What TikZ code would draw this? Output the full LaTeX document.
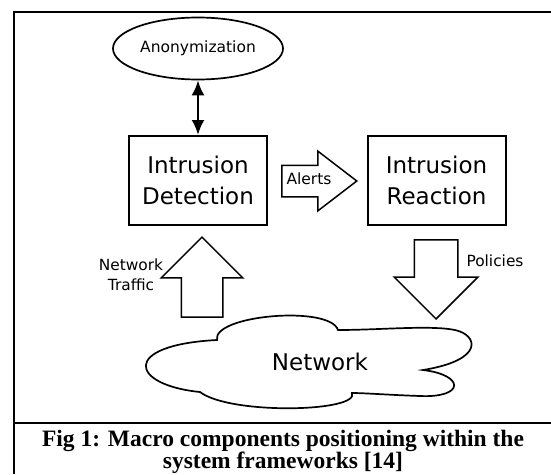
\documentclass[tikz,border=0pt]{standalone}
\usepackage{fontspec}
\setmainfont{DejaVu Sans}
\newfontfamily\capfont{Liberation Serif}
\usepackage{tikz}
\usetikzlibrary{positioning, arrows.meta, shapes.geometric, shapes.arrows}

\tikzset{
    block/.style={draw, line width=2pt, minimum width=138pt, minimum height=89pt,
        align=center, font=\fontsize{23}{31}\selectfont},
    blockarrow/.style={draw, single arrow, line width=1.5pt, inner xsep=0pt,
        single arrow tip angle=90},
    lbl/.style={font=\fontsize{15.4}{20}\selectfont, align=center, inner sep=0pt},
}

\begin{document}
\begin{tikzpicture}[x=1pt,y=-1pt]
    \useasboundingbox (0,0) rectangle (551,474);

    \draw[line width=1.4pt] (14,474) -- (14,12) -- (551,12);
    \draw[line width=2pt] (14,423) -- (551,423);

    \node[draw, ellipse, line width=1.7pt, minimum width=170pt, minimum height=62pt,
        inner sep=0pt, font=\fontsize{15.5}{18}\selectfont] (anon) at (198,48.5) {Anonymization};
    \node[block] (det) at (198,180.5) {Intrusion\\Detection};
    \node[block] (react) at (436.5,180.5) {Intrusion\\Reaction};

    \draw[{Latex[length=15pt,width=13pt]}-{Latex[length=15pt,width=13pt]}, line width=2.5pt]
        (anon) -- (det);

    \node[blockarrow, anchor=tip, single arrow tip angle=75, single arrow head extend=14pt,
        minimum height=75pt, inner ysep=0pt, text height=18pt, text depth=12pt,
        font=\fontsize{15.5}{18}\selectfont] (alerts) at (358,181) {Alerts};
    \node[blockarrow, anchor=tip, rotate=90, single arrow head extend=20pt,
        minimum height=80pt, inner ysep=20pt] (traffic) at (202,236) {};
    \node[blockarrow, anchor=tip, rotate=-90, single arrow head extend=20pt,
        minimum height=79pt, inner ysep=21pt] (policy) at (436,320) {};

    \node[lbl] (trafficlbl) at (131,275) {Network\\Traffic};
    \node[lbl] (policylbl) at (495,261) {Policies};

    \draw[line width=1.7pt] (217,340) .. controls (212,315) and (330,305) .. (338,330)
        .. controls (380,330) and (430,325) .. (455,330)
        .. controls (478,335) and (485,360) .. (423,370)
        .. controls (465,375) and (465,398) .. (420,396)
        .. controls (390,395) and (365,393) .. (352,393)
        .. controls (360,412) and (230,415) .. (200,392)
        .. controls (130,385) and (120,345) .. (217,340) -- cycle;
    \node[font=\fontsize{23}{28}\selectfont] (net) at (320,362) {Network};

    \node[align=center, inner sep=0pt, font=\capfont\bfseries\fontsize{23.5}{22.5}\selectfont]
        (caption) at (283,452) {Fig 1: Macro components positioning within the\\system frameworks [14]};
\end{tikzpicture}
\end{document}
